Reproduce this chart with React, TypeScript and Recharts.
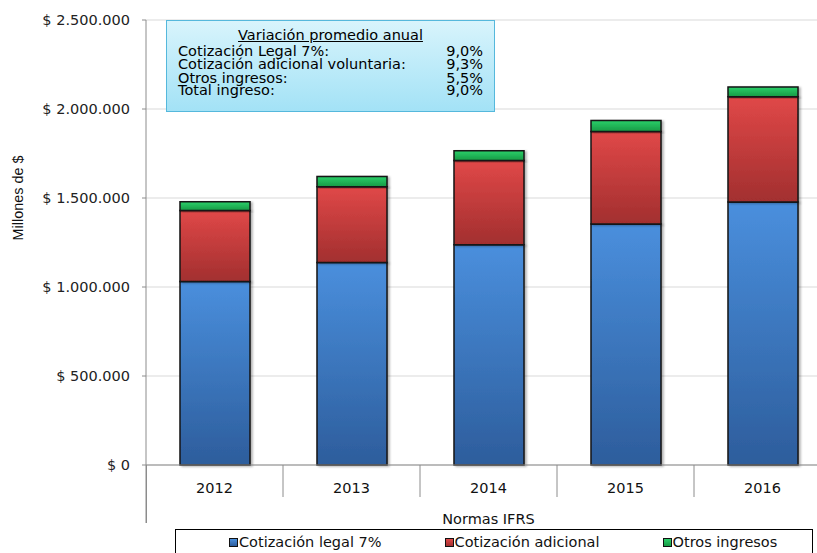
import { BarChart, Bar, XAxis, YAxis, CartesianGrid, Label } from 'recharts'

const YEARS = ['2012', '2013', '2014', '2015', '2016']
const LEGAL = [1031000, 1138000, 1238000, 1354000, 1477000]
const ADICIONAL = [399000, 425000, 473000, 520000, 592000]
const OTROS = [49000, 58000, 55000, 62000, 55000]
const Y_TICKS = [0, 500000, 1000000, 1500000, 2000000, 2500000]

const SERIES = [
  { key: 'legal', name: 'Cotización legal 7%', top: '#4a8fdd', bottom: '#2d5d9c' },
  { key: 'adicional', name: 'Cotización adicional', top: '#e04848', bottom: '#a22f2f' },
  { key: 'otros', name: 'Otros ingresos', top: '#2bd06a', bottom: '#179a45' },
]

const VARIACION_TITLE = 'Variación promedio anual'
const VARIACION_LABELS = ['Cotización Legal 7%:', 'Cotización adicional voluntaria:', 'Otros ingresos:', 'Total ingreso:']
const VARIACION_VALUES = ['9,0%', '9,3%', '5,5%', '9,0%']

const data = YEARS.map((year, i) => ({
  year,
  legal: LEGAL[i],
  adicional: ADICIONAL[i],
  otros: OTROS[i],
}))

const CHART_W = 840
const CHART_H = 553
const AXIS_W = 146
const MARGIN = { top: 20, right: 9, left: 0, bottom: 0 }
const PLOT_W = CHART_W - AXIS_W - MARGIN.left - MARGIN.right
const HALF_BAND = PLOT_W / YEARS.length / 2

const FONT = '"DejaVu Sans", Verdana, sans-serif'

const fmtMoney = (v: number) => '$ ' + v.toLocaleString('de-DE')

const CategoryTick = ({ x, y, payload, index }: any) => {
  const left = x - HALF_BAND
  return (
    <g>
      <line x1={left} y1={y} x2={left} y2={y + (index === 0 ? 58 : 32)} stroke="#8c8c8c" strokeWidth={1} />
      <text x={x} y={y + 23} textAnchor="middle" dominantBaseline="central"
        fontFamily={FONT} fontSize={14.5} fill="#111">
        {payload.value}
      </text>
    </g>
  )
}

const YLabel = () => {
  const cx = 18
  const cy = 198
  return (
    <text x={cx} y={cy} transform={`rotate(-90 ${cx} ${cy})`} textAnchor="middle" dominantBaseline="central"
      fontFamily='"Liberation Sans", Arial, sans-serif' fontSize={14.4} fill="#111">
      Millones de $
    </text>
  )
}

export default function App() {
  return (
    <div style={{ position: 'absolute', left: 0, top: 0, width: 817, height: 553, overflow: 'hidden', background: '#fff' }}>
      <BarChart width={CHART_W} height={CHART_H} data={data} margin={MARGIN} barSize={70}>
        <defs>
          {SERIES.map(s => (
            <linearGradient key={s.key} id={`grad-${s.key}`} x1="0" y1="0" x2="0" y2="1">
              <stop offset="0%" stopColor={s.top} />
              <stop offset="100%" stopColor={s.bottom} />
            </linearGradient>
          ))}
          <filter id="barShadow" x="-10%" y="-10%" width="130%" height="130%">
            <feDropShadow dx="2" dy="1" stdDeviation="1" floodColor="#000" floodOpacity="0.3" />
          </filter>
        </defs>
        <CartesianGrid vertical={false} stroke="#d9d9d9" />
        <XAxis
          dataKey="year"
          height={88}
          axisLine={{ stroke: '#8c8c8c' }}
          tickLine={false}
          tickSize={0}
          tickMargin={0}
          tick={<CategoryTick />}
          interval={0}
        >
          <Label value="Normas IFRS" position="insideBottom" offset={29}
            style={{ fontFamily: FONT, fontSize: 14.5, fill: '#111' }} />
        </XAxis>
        <YAxis
          width={AXIS_W}
          domain={[0, 2500000]}
          ticks={Y_TICKS}
          tickFormatter={fmtMoney}
          axisLine={{ stroke: '#8c8c8c' }}
          tickLine={{ stroke: '#8c8c8c' }}
          tickSize={4}
          tickMargin={12}
          tick={{ fontFamily: FONT, fontSize: 14.5, fill: '#222' }}
        >
          <Label content={<YLabel />} />
        </YAxis>
        {SERIES.map(s => (
          <Bar
            key={s.key}
            dataKey={s.key}
            name={s.name}
            stackId="a"
            fill={`url(#grad-${s.key})`}
            stroke="#151515"
            strokeWidth={1.5}
            filter="url(#barShadow)"
            isAnimationActive={false}
          />
        ))}
      </BarChart>

      {/* y-axis line continues down past the category row */}
      <div style={{ position: 'absolute', left: 145.5, top: 465, width: 1, height: 58, background: '#8c8c8c' }} />

      {/* variación promedio anual text box */}
      <div style={{
        position: 'absolute', left: 166, top: 20, width: 327, height: 90,
        border: '1px solid #55b8dc',
        background: 'linear-gradient(#d8f4fc, #a3e2f6)',
        fontFamily: FONT, fontSize: 14.5, color: '#000',
      }}>
        <div style={{ position: 'absolute', left: 0, width: '100%', top: 7.5, textAlign: 'center', lineHeight: '12px', textDecoration: 'underline' }}>
          {VARIACION_TITLE}
        </div>
        {VARIACION_LABELS.map((label, i) => (
          <div key={label} style={{
            position: 'absolute', left: 11, right: 11, top: 23.5 + [0, 13.5, 27, 39.5][i],
            lineHeight: '12px', display: 'flex', justifyContent: 'space-between', whiteSpace: 'nowrap',
          }}>
            <span>{label}</span>
            <span>{VARIACION_VALUES[i]}</span>
          </div>
        ))}
      </div>

      {/* legend */}
      <div style={{
        position: 'absolute', left: 175, top: 529, width: 638, height: 26,
        border: '1px solid #000', boxSizing: 'border-box',
        display: 'flex', alignItems: 'center', paddingLeft: 53, gap: 63,
        fontFamily: FONT, fontSize: 14.5, color: '#111', whiteSpace: 'nowrap',
      }}>
        {SERIES.map(s => (
          <span key={s.key} style={{ display: 'flex', alignItems: 'center' }}>
            <span style={{
              display: 'inline-block', width: 7, height: 7, marginRight: 1,
              border: '1px solid #111', background: `linear-gradient(${s.top}, ${s.bottom})`,
            }} />
            {s.name}
          </span>
        ))}
      </div>
    </div>
  )
}
